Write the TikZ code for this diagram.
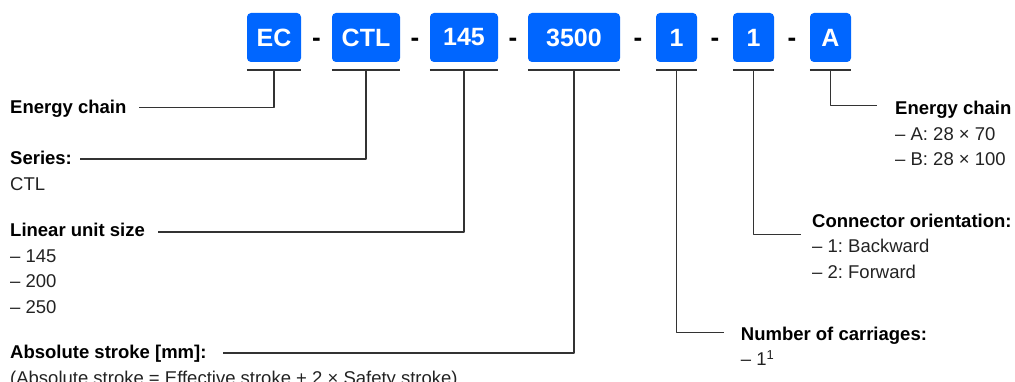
\documentclass[tikz,border=0pt]{standalone}
\usepackage{fontspec}
\setmainfont{Liberation Sans}
\usetikzlibrary{positioning,calc}
\definecolor{codeblue}{HTML}{0066FF}
\definecolor{ink}{HTML}{222222}
\definecolor{wire}{HTML}{333333}
\frenchspacing
\tikzset{
	codebox/.style={fill=codeblue,text=white,rounded corners=4pt,minimum height=49pt,inner sep=0pt,font=\fontsize{25}{25}\selectfont\bfseries},
	sepsign/.style={inner sep=0pt,text=black,font=\fontsize{26}{26}\selectfont\bfseries},
	title/.style={anchor=base west,inner sep=0pt,text=black,font=\fontsize{18.5}{22}\selectfont\bfseries},
	item/.style={anchor=base west,inner sep=0pt,text=ink,font=\fontsize{18.5}{22}\selectfont},
	uline/.style={wire,line width=2pt},
	lead/.style={wire,line width=1.4pt}
}
\begin{document}
\begin{tikzpicture}[x=1pt,y=-1pt,line join=round]
			\def\d{25.5}
			\useasboundingbox (0,0) rectangle (1015,382);
			% code boxes
			\foreach \n/\t/\x/\w in {ec/EC/274/54,ctl/CTL/366/68,size/145/464/68,stroke/3500/574/92,car/1/676.5/41,con/1/753.5/41,chain/A/830.5/41}
			{\node[codebox,minimum width=\w pt] (\n) at (\x,37.5) {\t};
			\draw[uline] ([yshift=-8pt]\n.south west) -- ([yshift=-8pt]\n.south east);
			\coordinate (\n-u) at ([yshift=-8pt]\n.south);
			}
			\foreach \a/\b in {ec/ctl,ctl/size,size/stroke,stroke/car,car/con,con/chain}
			\node[sepsign] at ($(\a.east)!.5!(\b.west)+(0,4.5)$) {-};
			% left labels
			\node[title] (t-ec) at (10,113.3) {Energy chain};
			\node[title] (t-ser) at (10,165) {Series:};
			\node[item] at ([yshift=-\d pt]t-ser.base west) {CTL};
			\node[title] (t-size) at (10,236.7) {Linear unit size};
			\foreach \v/\k in {145/1,200/2,250/3}
			\node[item] at ([yshift=-\k*\d pt]t-size.base west) {– \v};
			\node[title] (t-stroke) at (10,358.5) {Absolute stroke [mm]:};
			\node[item] at ([yshift=-\d pt]t-stroke.base west) {(Absolute stroke = Effective stroke + 2 × Safety stroke)};
			% right labels
			\node[title] (t-chain) at (895,115) {Energy chain};
			\node[item] at ([yshift=-\d pt]t-chain.base west) {– A: 28 × 70};
			\node[item] at ([yshift=-2*\d pt]t-chain.base west) {– B: 28 × 100};
			\node[title] (t-con) at (812,227.3) {Connector orientation:};
			\node[item] at ([yshift=-\d pt]t-con.base west) {– 1: Backward};
			\node[item] at ([yshift=-2*\d pt]t-con.base west) {– 2: Forward};
			\node[title] (t-car) at (740.7,340) {Number of carriages:};
			\node[item] at ([yshift=-\d pt]t-car.base west) {– 1\textsuperscript{1}};
			% leaders
			\foreach \b/\l/\g/\h in {ec/ec/12/5.5,ctl/ser/8/6,size/size/13/4.7,stroke/stroke/16/5.5}
			\draw[lead] (\b-u) |- ([xshift=\g pt,yshift=\h pt]t-\l.base east);
			\foreach \b/\g/\h in {chain/18/9.3,con/11/-7,car/17/7.3}
			\draw[lead] (\b-u) |- ([xshift=-\g pt,yshift=\h pt]t-\b.base west);
\end{tikzpicture}
\end{document}
